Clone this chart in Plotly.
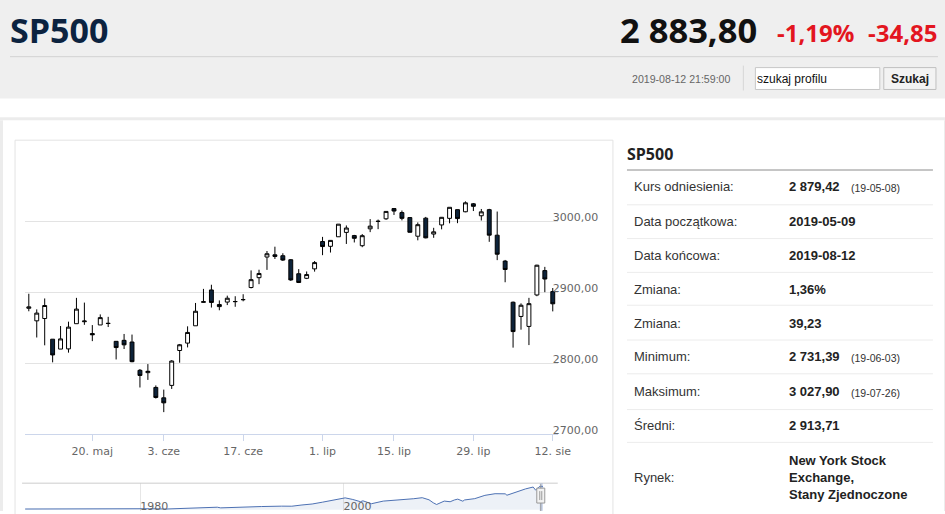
import plotly.graph_objects as go

W, H = 945, 514

# ---------------- data ----------------
dates = [
    "2019-05-08", "2019-05-09", "2019-05-10", "2019-05-13", "2019-05-14", "2019-05-15", "2019-05-16", "2019-05-17",
    "2019-05-20", "2019-05-21", "2019-05-22", "2019-05-23", "2019-05-24", "2019-05-28", "2019-05-29", "2019-05-30",
    "2019-05-31", "2019-06-03", "2019-06-04", "2019-06-05", "2019-06-06", "2019-06-07", "2019-06-10", "2019-06-11",
    "2019-06-12", "2019-06-13", "2019-06-14", "2019-06-17", "2019-06-18", "2019-06-19", "2019-06-20", "2019-06-21",
    "2019-06-24", "2019-06-25", "2019-06-26", "2019-06-27", "2019-06-28", "2019-07-01", "2019-07-02", "2019-07-03",
    "2019-07-05", "2019-07-08", "2019-07-09", "2019-07-10", "2019-07-11", "2019-07-12", "2019-07-15", "2019-07-16",
    "2019-07-17", "2019-07-18", "2019-07-19", "2019-07-22", "2019-07-23", "2019-07-24", "2019-07-25", "2019-07-26",
    "2019-07-29", "2019-07-30", "2019-07-31", "2019-08-01", "2019-08-02", "2019-08-05", "2019-08-06", "2019-08-07",
    "2019-08-08", "2019-08-09", "2019-08-12",
]
opens = [
    2877.49, 2859.84, 2863.10, 2834.00, 2820.12, 2820.38, 2855.80, 2858.60,
    2841.94, 2854.02, 2856.06, 2831.00, 2832.41, 2830.03, 2790.25, 2786.94,
    2766.15, 2751.53, 2769.00, 2818.09, 2828.51, 2852.87, 2885.83, 2903.27,
    2882.73, 2886.24, 2886.82, 2889.75, 2906.71, 2920.55, 2949.60, 2952.71,
    2951.42, 2945.78, 2926.07, 2919.66, 2932.94, 2971.41, 2964.66, 2978.08,
    2984.25, 2979.77, 2965.52, 2989.30, 2999.62, 3003.36, 3017.80, 3012.13,
    3005.10, 2978.87, 3004.26, 2981.93, 2994.74, 3004.00, 3016.26, 3013.25,
    3024.47, 3007.66, 3016.22, 2980.32, 2943.90, 2886.00, 2866.00, 2852.00,
    2896.21, 2930.51, 2901.00,
]
highs = [
    2897.96, 2875.97, 2891.31, 2834.00, 2852.54, 2858.68, 2892.15, 2885.48,
    2853.86, 2868.88, 2865.47, 2831.00, 2841.36, 2840.51, 2792.03, 2799.00,
    2768.98, 2763.07, 2804.49, 2827.28, 2852.10, 2884.97, 2904.77, 2910.61,
    2888.57, 2895.24, 2894.45, 2897.27, 2930.79, 2931.74, 2958.06, 2964.15,
    2954.92, 2946.52, 2932.59, 2929.30, 2943.98, 2977.93, 2973.21, 2995.84,
    2994.03, 2980.76, 2981.90, 3002.98, 3002.33, 3013.92, 3017.80, 3015.02,
    3005.26, 2998.28, 3006.02, 2990.71, 3005.90, 3019.59, 3016.31, 3027.90,
    3025.61, 3017.19, 3017.40, 3013.59, 2945.50, 2887.00, 2884.40, 2892.17,
    2938.72, 2935.75, 2906.00,
]
lows = [
    2873.28, 2836.40, 2825.39, 2801.43, 2820.12, 2815.08, 2855.80, 2854.23,
    2831.29, 2854.02, 2851.11, 2805.49, 2820.19, 2801.58, 2766.06, 2776.74,
    2750.52, 2731.39, 2764.00, 2800.92, 2822.45, 2852.87, 2885.51, 2878.53,
    2874.68, 2881.99, 2879.62, 2887.30, 2905.44, 2911.43, 2931.50, 2946.87,
    2944.05, 2916.01, 2912.99, 2918.57, 2929.05, 2952.22, 2955.92, 2977.96,
    2967.97, 2970.09, 2963.44, 2984.62, 2988.80, 3001.87, 3008.77, 3001.15,
    2984.25, 2973.09, 2975.86, 2976.65, 2988.56, 2997.00, 2997.24, 3012.59,
    3014.30, 3000.94, 2971.00, 2945.23, 2914.11, 2822.12, 2847.42, 2825.71,
    2894.47, 2900.15, 2873.14,
]
closes = [
    2879.42, 2870.72, 2881.40, 2811.87, 2834.41, 2850.96, 2876.32, 2859.53,
    2840.23, 2864.36, 2856.27, 2822.24, 2826.06, 2802.39, 2783.02, 2788.86,
    2752.06, 2744.45, 2803.27, 2826.15, 2843.49, 2873.34, 2886.73, 2885.72,
    2879.84, 2891.64, 2886.98, 2889.67, 2917.75, 2926.46, 2954.18, 2950.46,
    2945.35, 2917.38, 2913.78, 2924.92, 2941.76, 2964.33, 2973.01, 2995.82,
    2990.41, 2975.95, 2979.63, 2993.07, 2999.91, 3013.77, 3014.30, 3004.04,
    2984.42, 2995.11, 2976.61, 2985.03, 3005.47, 3019.56, 3003.67, 3025.86,
    3020.97, 3013.18, 2980.38, 2953.56, 2932.05, 2844.74, 2881.77, 2883.98,
    2938.09, 2918.65, 2883.80,
]

tick_dates = ["2019-05-20", "2019-06-03", "2019-06-17", "2019-07-01", "2019-07-15", "2019-07-29", "2019-08-12"]
tick_labels = ["20. maj", "3. cze", "17. cze", "1. lip", "15. lip", "29. lip", "12. sie"]

y_ticks = [2700, 2800, 2900, 3000, 3100]
y_tick_labels = ["2700,00", "2800,00", "2900,00", "3000,00", ""]

nav_dates = [
    "1968-09-01", "1969-01-01", "1970-06-01", "1971-01-01", "1972-12-01", "1974-10-01", "1976-12-01",
    "1978-03-01", "1980-01-01", "1980-12-01", "1982-08-01", "1983-12-01", "1985-12-01", "1987-08-01",
    "1987-12-01", "1989-12-01", "1990-10-01", "1991-12-01", "1993-12-01", "1994-12-01", "1995-12-01",
    "1996-12-01", "1997-12-01", "1998-12-01", "1999-12-01", "2000-03-01", "2000-12-01", "2001-09-01",
    "2001-12-01", "2002-10-01", "2003-12-01", "2004-12-01", "2005-12-01", "2006-12-01", "2007-10-01",
    "2008-06-01", "2008-11-01", "2009-03-01", "2009-12-01", "2010-07-01", "2010-12-01", "2011-04-01",
    "2011-10-01", "2011-12-01", "2012-12-01", "2013-12-01", "2014-12-01", "2015-12-01", "2016-02-01",
    "2016-12-01", "2017-12-01", "2018-09-01", "2018-12-01", "2019-04-01", "2019-07-26", "2019-08-12",
]
nav_values = [
    100, 103, 73, 95, 118, 63, 107,
    87, 114, 136, 102, 165, 211, 330,
    247, 353, 306, 417, 466, 459, 616,
    741, 970, 1229, 1469, 1527, 1320, 1040,
    1148, 776, 1112, 1212, 1248, 1418, 1549,
    1280, 896, 676, 1115, 1030, 1258, 1364,
    1099, 1258, 1426, 1848, 2059, 2044, 1864,
    2239, 2674, 2914, 2507, 2946, 3026, 2884,
]
nav_ticks = ["1980-01-01", "2000-01-01"]
nav_tick_labels = ["1980", "2000"]

title = "SP500"
last_price = "2 883,80"
change_pct = "-1,19%"
change_abs = "-34,85"
timestamp = "2019-08-12 21:59:00"
search_placeholder = "szukaj profilu"
search_button = "Szukaj"

table_title = "SP500"
table_labels = ["Kurs odniesienia:", "Data początkowa:", "Data końcowa:", "Zmiana:", "Zmiana:",
                "Minimum:", "Maksimum:", "Średni:", "Rynek:"]
table_values = ["2 879,42", "2019-05-09", "2019-08-12", "1,36%", "39,23",
                "2 731,39", "3 027,90", "2 913,71", "New York Stock<br>Exchange,<br>Stany Zjednoczone"]
table_notes = ["(19-05-08)", "", "", "", "", "(19-06-03)", "(19-07-26)", "", ""]


# ---------------- helpers ----------------
def px(x):
    return x / W


def py(y):
    return 1 - y / H


AX_FONT = "DejaVu Sans"
TXT_FONT = "Liberation Sans"
HEAD_FONT = "Open Sans"

fig = go.Figure()

fig.add_trace(go.Candlestick(
    x=dates, open=opens, high=highs, low=lows, close=closes,
    increasing=dict(fillcolor="#ffffff", line=dict(color="#000000", width=1)),
    decreasing=dict(fillcolor="#0d233a", line=dict(color="#000000", width=1)),
    whiskerwidth=0, showlegend=False, hoverinfo="skip",
    xaxis="x", yaxis="y",
))

fig.add_trace(go.Scatter(
    x=nav_dates, y=nav_values, mode="lines",
    line=dict(color="#4d71b3", width=1),
    fill="tozeroy", fillcolor="rgba(77,113,179,0.10)",
    showlegend=False, hoverinfo="skip",
    xaxis="x2", yaxis="y2",
))

n = len(dates)
x_dom = [px(25), px(556)]

shapes = []


def rect(x0, y0, x1, y1, fill=None, line=None, lw=1, layer="above"):
    shapes.append(dict(type="rect", xref="paper", yref="paper",
                       x0=px(x0), x1=px(x1), y0=py(y1), y1=py(y0),
                       fillcolor=fill if fill else "rgba(0,0,0,0)",
                       line=dict(color=line if line else "rgba(0,0,0,0)", width=lw if line else 0),
                       layer=layer))


def hline(y, x0, x1, color, lw=1):
    shapes.append(dict(type="line", xref="paper", yref="paper",
                       x0=px(x0), x1=px(x1), y0=py(y), y1=py(y),
                       line=dict(color=color, width=lw)))


def vline(x, y0, y1, color, lw=1):
    shapes.append(dict(type="line", xref="paper", yref="paper",
                       x0=px(x), x1=px(x), y0=py(y0), y1=py(y1),
                       line=dict(color=color, width=lw)))


# page background pieces
rect(0, 0, 945, 99, fill="#efefef", layer="below")
hline(57, 10, 935, "#d2d2d2")
rect(0, 118, 945, 121, fill="#ececec", layer="below")
rect(0, 121, 3, 514, fill="#ececec", layer="below")
rect(941, 121, 945, 514, fill="#ececec", layer="below")
rect(15, 141, 611, 520, line="#e3e3e3", layer="below")

# search bar
vline(741, 66, 91, "#d6d6d6")
rect(753, 68, 877, 90, fill="#ffffff", line="#c6c6c6")
rect(881, 68, 933, 90, fill="#f3f3f3", line="#bfbfbf")

# table lines
hline(171, 625, 930, "#8c8c8c")
for ys in [206, 240, 274, 307, 342, 376, 412, 445]:
    hline(ys, 625, 930, "#ececec")

# navigator outline
hline(486, 22, 556, "#cccccc")
# navigator handle at end of selected range
shapes.append(dict(type="rect", xref="x2", yref="paper", xsizemode="pixel",
                   xanchor=dates[-1], x0=-3, x1=0,
                   y0=0, y1=py(486), fillcolor="rgba(102,133,194,0.3)", line=dict(width=0)))
shapes.append(dict(type="line", xref="x2", yref="paper", xsizemode="pixel",
                   xanchor=dates[-1], x0=-2, x1=-2, y0=0, y1=py(487),
                   line=dict(color="#999999", width=1)))
shapes.append(dict(type="rect", xref="x2", yref="paper", xsizemode="pixel",
                   xanchor=dates[-1], x0=-6, x1=2, y0=py(506), y1=py(491),
                   fillcolor="#f2f2f2", line=dict(color="#999999", width=1)))
for off in [-3, -1]:
    shapes.append(dict(type="line", xref="x2", yref="paper", xsizemode="pixel",
                       xanchor=dates[-1], x0=off, x1=off, y0=py(503), y1=py(494),
                       line=dict(color="#999999", width=1)))

annotations = []


def ann(text, x, y, size, color, family=TXT_FONT, weight="normal", xanchor="left", align="left"):
    annotations.append(dict(text=text, x=px(x), y=py(y), xref="paper", yref="paper",
                            xanchor=xanchor, yanchor="middle", showarrow=False, align=align,
                            font=dict(size=size, color=color, family=family, weight=weight)))


# header
ann(title, 8, 30, 34, "#0c2340", HEAD_FONT, "bold")
ann(last_price, 616, 30, 34.5, "#111111", HEAD_FONT, "bold")
ann(change_pct, 773, 33, 24, "#e3161f", HEAD_FONT, "bold")
ann(change_abs, 863, 33, 24, "#e3161f", HEAD_FONT, "bold")
ann(timestamp, 628, 79, 10.6, "#666666")
ann(search_placeholder, 753, 79, 12, "#111111")
ann(search_button, 907, 79, 12, "#222222", weight="bold", xanchor="center")

# table
ann(table_title, 623, 155, 16, "#222222", HEAD_FONT, "bold")
row_y = [188, 223, 257, 291, 325, 359, 394, 428, 480]
for lab, val, note, yy in zip(table_labels, table_values, table_notes, row_y):
    ann(lab, 630, yy, 13, "#333333")
    ann(val, 785, yy, 13, "#222222", weight="bold")
    if note:
        ann(note, 846, yy + 1, 10.5, "#333333")

fig.update_layout(
    margin=dict(l=0, r=0, t=0, b=0),
    paper_bgcolor="#ffffff", plot_bgcolor="rgba(0,0,0,0)",
    showlegend=False, boxgap=0.3,
    xaxis=dict(
        domain=x_dom, anchor="y", type="category",
        range=[-0.47, n - 1 + 0.63],
        rangeslider=dict(visible=False),
        tickmode="array", tickvals=tick_dates, ticktext=tick_labels,
        ticks="outside", ticklen=6, tickcolor="#ccd6eb",
        showline=True, linecolor="#ccd6eb", linewidth=1,
        showgrid=False, zeroline=False,
        tickfont=dict(family=AX_FONT, size=11, color="#666666"),
    ),
    yaxis=dict(
        domain=[py(437), py(151)], anchor="x", side="right",
        range=[2700, 3100], tickmode="array", tickvals=y_ticks, ticktext=y_tick_labels,
        showgrid=True, gridcolor="#e3e3e3", gridwidth=1, zeroline=False,
        ticks="", ticklabelstandoff=-6, ticklabelshift=-4,
        tickfont=dict(family=AX_FONT, size=11, color="#666666"),
        showline=False,
    ),
    xaxis2=dict(
        domain=x_dom, anchor="y2", type="date",
        range=["1968-09-01", "2021-02-01"],
        tickmode="array", tickvals=nav_ticks, ticktext=nav_tick_labels,
        ticks="", ticklabelposition="inside right", ticklabelstandoff=-7,
        showgrid=True, gridcolor="#e6e6e6", zeroline=False, showline=False,
        tickfont=dict(family=AX_FONT, size=11, color="#666666"),
    ),
    yaxis2=dict(
        domain=[0, py(486)], anchor="x2", range=[-154, 3408],
        showgrid=False, zeroline=False, showticklabels=False, ticks="",
    ),
    shapes=shapes,
    annotations=annotations,
)

# the page element is pinned to the top-left corner; its width is 16px wider than the window
# to compensate for the screenshot's horizontal squeeze observed in the previous rounds.
fig.write_html(
    "out.html",
    config={"displayModeBar": False, "staticPlot": True},
    default_width="%dpx;position:absolute;left:0;top:0" % (W + 16),
    default_height="%dpx" % H,
)
